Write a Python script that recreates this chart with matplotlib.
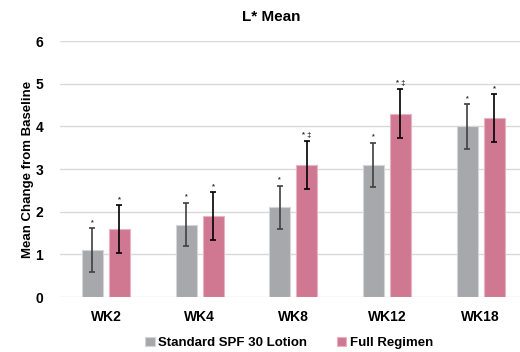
import matplotlib.pyplot as plt
import numpy as np

plt.rcParams["font.family"] = ["Liberation Sans", "DejaVu Sans"]
plt.rcParams["font.weight"] = "bold"

weeks = ["WK2", "WK4", "WK8", "WK12", "WK18"]
standard = [1.1, 1.7, 2.1, 3.1, 4.0]
standard_err = [0.51, 0.51, 0.51, 0.52, 0.52]
full = [1.6, 1.9, 3.1, 4.3, 4.2]
full_err = [0.56, 0.56, 0.56, 0.57, 0.56]
standard_sig = ["*", "*", "*", "*", "*"]
full_sig = ["*", "*", "* ‡", "* ‡", "*"]

GREY = "#a7a8ab"
PINK = "#d07891"


def main():
    fig = plt.figure(figsize=(5.2, 3.52), dpi=100)
    ax = fig.add_axes([0.1154, 0.156, 0.8846, 0.7275])

    x = np.arange(len(weeks))
    off = 0.144
    w = 0.225

    ax.bar(x - off, standard, w, color=GREY, edgecolor="#d4d5d7", linewidth=0.8,
           label="Standard SPF 30 Lotion", zorder=3)
    ax.bar(x + off, full, w, color=PINK, edgecolor="#e8b3c2", linewidth=0.8,
           label="Full Regimen", zorder=3)
    ax.errorbar(x - off, standard, yerr=standard_err, fmt="none", ecolor="#404040",
                elinewidth=1.2, capsize=2.5, capthick=1.2, zorder=4)
    ax.errorbar(x + off, full, yerr=full_err, fmt="none", ecolor="black",
                elinewidth=1.2, capsize=2.5, capthick=1.2, zorder=4)

    # significance markers above the error bars
    for i in range(len(weeks)):
        ax.text(x[i] - off, standard[i] + standard_err[i] + 0.05, standard_sig[i],
                ha="center", va="bottom", fontsize=5, color="#333333")
        ax.text(x[i] + off, full[i] + full_err[i] + 0.05, full_sig[i],
                ha="center", va="bottom", fontsize=5.5, color="#333333")

    ax.set_xlim(-0.49, 4.42)
    ax.set_ylim(0, 6)
    ax.set_yticks(range(7))
    ax.set_xticks(x)
    ax.set_xticklabels(weeks, fontsize=10, fontweight="bold")
    ax.tick_params(axis="y", length=0, pad=12, labelsize=10)
    ax.tick_params(axis="x", length=0, pad=9)
    for s in ax.spines.values():
        s.set_visible(False)
    ax.grid(axis="y", color="#d9d9d9", linewidth=1, zorder=0)
    ax.set_axisbelow(True)

    ax.set_ylabel("Mean Change from Baseline", fontsize=9.5, fontweight="bold", labelpad=1)
    fig.text(0.521, 0.952, "L* Mean", ha="center", va="center", fontsize=11,
             fontweight="bold")

    fig.legend(loc="center", bbox_to_anchor=(0.556, 0.025), ncol=2, frameon=False,
               fontsize=9.5, handlelength=0.7, handleheight=0.7, handletextpad=0.3,
               columnspacing=2.2)

    fig.savefig("out.png", dpi=100)


if __name__ == "__main__":
    main()
